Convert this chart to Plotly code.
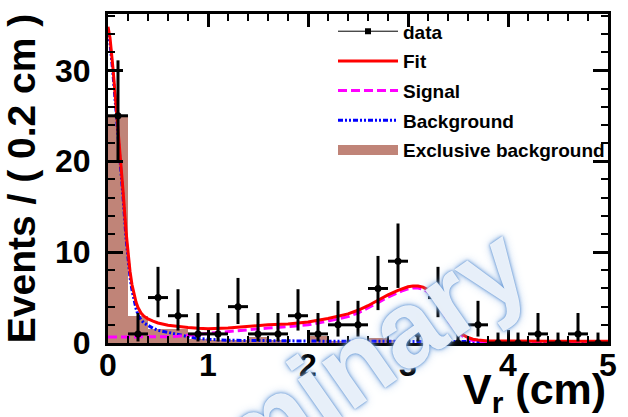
import plotly.graph_objects as go

# ---- data ----
bin_centers = [0.1, 0.3, 0.5, 0.7, 0.9, 1.1, 1.3, 1.5, 1.7, 1.9, 2.1, 2.3, 2.5,
               2.7, 2.9, 3.1, 3.3, 3.5, 3.7, 3.9, 4.1, 4.3, 4.5, 4.7, 4.9]
counts = [25, 1, 5, 3, 1, 1, 4, 1, 1, 3, 1, 2, 2, 6, 9, 1, 5, 0, 2, 0, 0, 1, 0, 1, 0]
err_lo = [4.96, 0.83, 2.16, 1.63, 0.83, 0.83, 1.91, 0.83, 0.83, 1.63, 0.83, 1.29, 1.29,
          2.38, 2.94, 0.83, 2.16, 0.0, 1.29, 0.0, 0.0, 0.83, 0.0, 0.83, 0.0]
err_hi = [6.10, 2.30, 3.38, 2.92, 2.30, 2.30, 3.16, 2.30, 2.30, 2.92, 2.30, 2.64, 2.64,
          3.58, 4.15, 2.30, 3.38, 1.15, 2.64, 1.15, 1.15, 2.30, 1.15, 2.30, 1.15]
half_bin = 0.1

excl_bkg = [25.0, 3.0, 1.5, 1.5, 0.4, 0.3, 0.3, 0.7, 0.3, 0.0, 0.75, 0.2, 0.0,
            0.5, 0.3, 0.0, 0.0, 0.0, 0.0, 0.0, 0.0, 0.0, 0.0, 0.0, 0.0]

curve_x = [0.0, 0.02, 0.05, 0.08, 0.1, 0.12, 0.15, 0.18, 0.2, 0.22, 0.24, 0.26, 0.28, 0.3,
           0.33, 0.36, 0.4, 0.45, 0.5, 0.6, 0.7, 0.8, 0.9, 1.0, 1.2, 1.4, 1.6, 1.8, 2.0, 2.2,
           2.4, 2.5, 2.6, 2.7, 2.8, 2.9, 2.95, 3.0, 3.05, 3.1, 3.15, 3.2, 3.25, 3.3, 3.35,
           3.4, 3.45, 3.5, 3.55, 3.6, 3.65, 3.7, 3.8, 4.0, 4.5, 5.0]
fit = [34.8, 33.6, 30.2, 26.3, 23.8, 21.2, 16.8, 12.3, 9.9, 7.9, 6.4, 5.3, 4.5, 3.9,
       3.3, 2.95, 2.65, 2.4, 2.2, 1.95, 1.8, 1.7, 1.62, 1.58, 1.65, 1.85, 2.0, 2.1, 2.3, 2.7,
       3.2, 3.6, 4.1, 4.7, 5.3, 5.8, 6.0, 6.18, 6.28, 6.28, 6.15, 5.85, 5.3, 4.5, 3.6,
       2.7, 2.0, 1.35, 0.9, 0.6, 0.42, 0.32, 0.23, 0.2, 0.2, 0.2]
signal = [0.65, 0.65, 0.65, 0.65, 0.65, 0.65, 0.65, 0.65, 0.65, 0.65, 0.65, 0.65, 0.65, 0.65,
          0.65, 0.65, 0.65, 0.66, 0.68, 0.7, 0.75, 0.85, 0.95, 1.05, 1.3, 1.5, 1.65, 1.8, 2.0, 2.4,
          2.9, 3.3, 3.85, 4.45, 5.05, 5.55, 5.78, 5.95, 6.05, 6.05, 5.93, 5.63, 5.1, 4.3, 3.4,
          2.5, 1.82, 1.18, 0.74, 0.45, 0.27, 0.17, 0.08, 0.05, 0.05, 0.05]
background = [34.2, 33.0, 29.6, 25.7, 23.2, 20.5, 16.1, 11.6, 9.2, 7.2, 5.8, 4.7, 3.8, 3.1,
              2.55, 2.2, 1.9, 1.62, 1.4, 1.15, 0.9, 0.7, 0.5, 0.4, 0.3, 0.27, 0.25, 0.23, 0.22, 0.2,
              0.2, 0.19, 0.19, 0.18, 0.18, 0.18, 0.17, 0.17, 0.17, 0.17, 0.17, 0.17, 0.17, 0.17, 0.16,
              0.16, 0.16, 0.16, 0.16, 0.16, 0.16, 0.16, 0.15, 0.15, 0.15, 0.15]

x_ticks = [0, 1, 2, 3, 4, 5]
y_ticks = [0, 10, 20, 30]

FONT = "Liberation Sans, Arial, sans-serif"
BROWN = "#c08478"

fig = go.Figure()

# Exclusive background histogram
fig.add_trace(go.Bar(x=bin_centers, y=excl_bkg, width=0.2, marker=dict(color=BROWN, line=dict(width=0)),
                     showlegend=False))

# curves
fig.add_trace(go.Scatter(x=curve_x, y=background, mode="lines", name="Background",
                         line=dict(color="#0000ff", width=3, dash="5px,2px,2px,2px,2px,2px"),
                         legendrank=4, legendgroup="b"))
fig.add_trace(go.Scatter(x=curve_x, y=signal, mode="lines", name="Signal",
                         line=dict(color="#ff00ff", width=3, dash="9px,4px"),
                         legendrank=3, legendgroup="s"))
fig.add_trace(go.Scatter(x=curve_x, y=fit, mode="lines", name="Fit",
                         line=dict(color="#ff0000", width=3),
                         legendrank=2, legendgroup="f"))

# data points
fig.add_trace(go.Scatter(x=bin_centers, y=counts, mode="markers", showlegend=False,
                         marker=dict(color="black", size=7, symbol="circle"),
                         error_y=dict(type="data", symmetric=False, array=err_hi, arrayminus=err_lo,
                                      color="black", thickness=3, width=0),
                         error_x=dict(type="constant", value=half_bin, color="black", thickness=3, width=0)))
# legend entries
fig.add_trace(go.Scatter(x=[None], y=[None], mode="lines+markers", name="data",
                         line=dict(color="black", width=1),
                         marker=dict(color="black", size=6, symbol="square"),
                         legendrank=1, legendgroup="d"))
fig.add_trace(go.Scatter(x=[None], y=[None], mode="lines", line=dict(color=BROWN, width=20),
                         name="Exclusive background", legendrank=5, legendgroup="e"))

axis_common = dict(showline=True, linecolor="black", linewidth=3, mirror="allticks",
                   ticks="inside", tickcolor="black", tickwidth=3, showgrid=False, zeroline=False,
                   tickfont=dict(family=FONT, size=32, color="black", weight="bold"))

fig.update_xaxes(range=[0, 5], tickvals=x_ticks, ticklen=13, ticklabelstandoff=-8,
                 minor=dict(dtick=0.2, ticks="inside", ticklen=7, tickwidth=2, tickcolor="black"),
                 **axis_common)
fig.update_yaxes(range=[0, 36.2], tickvals=y_ticks, ticklen=15, ticklabelstandoff=8,
                 minor=dict(dtick=2, ticks="inside", ticklen=7, tickwidth=2, tickcolor="black"),
                 title=dict(text="Events / ( 0.2 cm )", standoff=12,
                            font=dict(family=FONT, size=39, color="black", weight="bold")),
                 **axis_common)

fig.add_annotation(text="V<sub>r</sub> (cm)", xref="paper", yref="paper", x=1.0, y=-0.062,
                   xanchor="right", yanchor="top", showarrow=False,
                   font=dict(family=FONT, size=43, color="black", weight="bold"))

# watermark
fig.add_annotation(text="Preliminary", xref="paper", yref="paper", x=0.33, y=-0.235,
                   xanchor="center", yanchor="middle", showarrow=False, textangle=-35,
                   font=dict(family=FONT, size=108, color="rgba(255,255,255,0.85)", weight="bold",
                             shadow="0px 0px 2px #5b8fd1, 0px 0px 4px #6f9fd8, 0px 0px 8px #8fb6e6"))

fig.update_layout(
    width=628, height=417,
    margin=dict(l=108, r=11, t=12, b=74),
    plot_bgcolor="white", paper_bgcolor="white",
    barmode="overlay", bargap=0,
    showlegend=True,
    legend=dict(x=0.45, y=1.005, xanchor="left", yanchor="top", bgcolor="rgba(255,255,255,0)",
                traceorder="grouped", tracegroupgap=2, itemwidth=60,
                font=dict(family=FONT, size=19, color="black", weight="bold")),
)

fig.write_html("out.html")
